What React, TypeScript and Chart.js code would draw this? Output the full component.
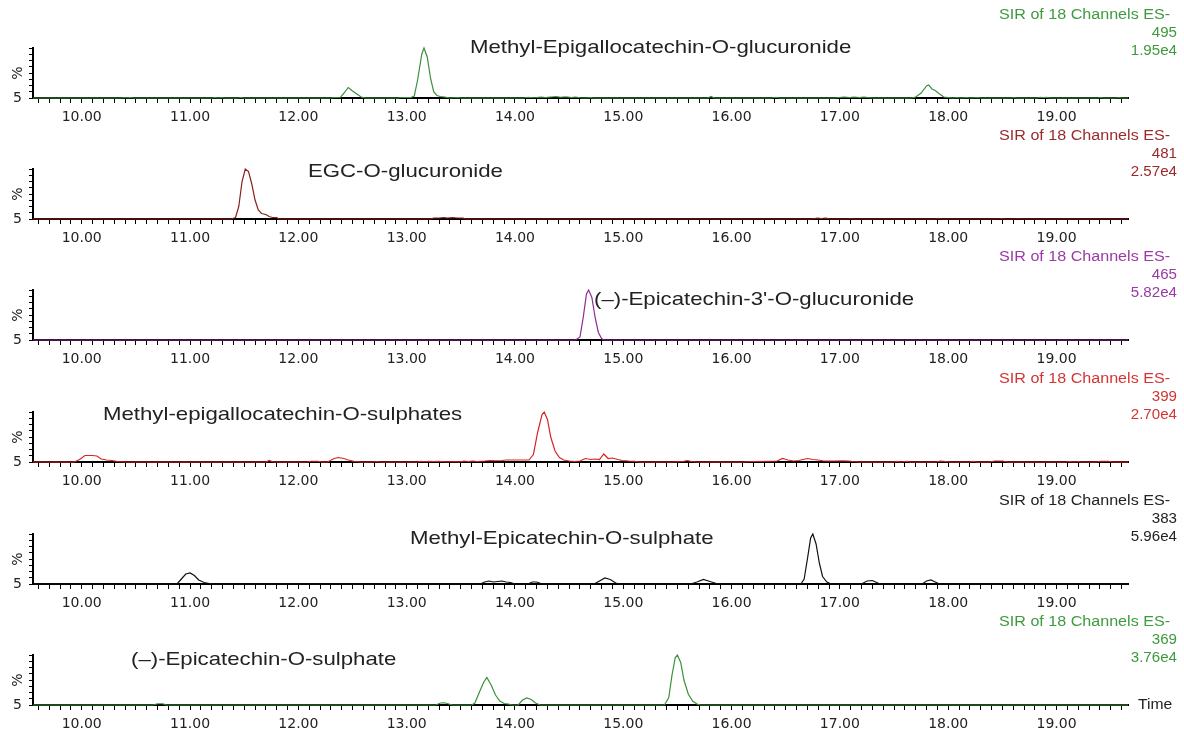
import React, { useEffect, useRef } from 'react';
import { Chart, registerables } from 'chart.js';

Chart.register(...registerables);

const TIME_MIN = 9.55;
const TIME_MAX = 19.66;
const TIME_TICK_STEP = 0.1;
const INTENSITY_MAX = 100;
const INTENSITY_TICK_STEP = 12.5;

// [retention time (min), relative intensity (%)]
const trace495: [number, number][] = [
  [9.55, 0], [10.36, 0], [10.39, 1], [10.42, 0.5], [10.45, 1], [10.48, 0],
  [11.2, 0], [11.23, 1], [11.26, 0], [11.29, 1], [11.32, 0],
  [11.44, 0], [11.47, 1], [11.5, 0],
  [12.3, 0], [12.33, 1], [12.39, 1.5], [12.43, 12], [12.46, 21], [12.5, 14], [12.54, 8], [12.58, 2], [12.62, 0],
  [12.92, 0], [12.95, 1], [13.0, 1], [13.04, 1], [13.07, 4], [13.1, 35], [13.14, 88], [13.16, 100], [13.19, 82],
  [13.22, 40], [13.25, 12], [13.28, 5], [13.31, 3], [13.35, 2], [13.4, 0], [13.47, 1], [13.5, 0],
  [14.08, 0], [14.12, 1.5], [14.16, 0.5], [14.2, 1], [14.24, 2], [14.28, 1], [14.33, 2], [14.38, 3], [14.42, 1.5],
  [14.47, 2.5], [14.52, 1], [14.56, 2], [14.6, 0.5], [14.65, 0], [14.7, 1], [14.73, 0],
  [15.78, 0], [15.81, 3], [15.84, 0],
  [16.37, 0], [16.41, 1.5], [16.44, 0],
  [16.95, 0], [16.99, 1], [17.04, 2], [17.09, 1], [17.13, 2], [17.18, 1], [17.22, 2], [17.26, 1], [17.3, 0],
  [17.66, 0], [17.7, 2], [17.75, 10], [17.8, 24], [17.82, 26], [17.85, 18], [17.88, 15], [17.92, 8], [17.96, 2],
  [18.0, 1], [18.04, 0], [18.08, 1], [18.12, 0], [18.17, 1], [18.2, 0], [18.27, 1], [18.3, 0],
  [18.58, 0], [18.61, 1], [18.64, 0],
  [18.82, 0], [18.85, 1.5], [18.88, 1], [18.91, 1.5], [18.94, 0],
  [19.38, 0], [19.41, 1], [19.44, 0], [19.55, 0], [19.58, 1], [19.6, 0], [19.66, 0],
];

const trace481: [number, number][] = [
  [9.55, 0], [11.38, 0], [11.42, 3], [11.45, 25], [11.48, 75], [11.51, 100], [11.54, 95], [11.57, 70],
  [11.6, 38], [11.63, 18], [11.66, 11], [11.7, 9], [11.73, 5], [11.76, 3], [11.8, 3], [11.82, 0],
  [13.22, 0], [13.25, 2], [13.3, 2], [13.34, 3], [13.38, 2], [13.42, 3], [13.47, 2], [13.52, 2], [13.54, 0],
  [16.75, 0], [16.79, 2], [16.83, 1], [16.87, 2], [16.91, 0],
  [17.07, 0], [17.1, 1], [17.13, 0],
  [17.88, 0], [17.91, 1.5], [17.94, 0],
  [18.45, 0], [18.49, 1], [18.53, 0], [18.62, 0], [18.65, 1], [18.68, 0],
  [19.66, 0],
];

const trace465: [number, number][] = [
  [9.55, 0], [14.56, 0], [14.6, 6], [14.63, 45], [14.66, 92], [14.68, 100], [14.71, 85], [14.74, 45],
  [14.77, 15], [14.8, 3], [14.82, 0], [19.66, 0],
];

const trace399: [number, number][] = [
  [9.55, 0], [9.93, 0], [9.98, 5], [10.03, 13], [10.1, 13], [10.14, 12], [10.18, 6], [10.23, 4], [10.28, 3], [10.33, 1], [10.4, 0],
  [11.7, 0], [11.73, 3], [11.77, 0],
  [12.08, 0], [12.12, 1.5], [12.18, 1.5], [12.22, 0],
  [12.27, 0], [12.33, 7], [12.37, 9], [12.42, 7], [12.46, 4], [12.52, 1], [12.58, 0],
  [12.68, 0], [12.72, 1], [12.76, 0],
  [13.1, 0], [13.13, 1.5], [13.17, 0.5], [13.2, 1.5], [13.25, 1], [13.3, 1.5], [13.35, 0.5],
  [13.5, 0.5], [13.53, 2], [13.57, 1], [13.61, 2], [13.65, 1], [13.72, 2], [13.77, 3], [13.82, 2.5], [13.88, 3],
  [13.92, 4], [13.98, 4], [14.05, 4], [14.1, 4], [14.13, 4],
  [14.17, 15], [14.21, 60], [14.25, 95], [14.27, 100], [14.3, 85], [14.33, 50], [14.37, 22], [14.41, 9], [14.45, 4],
  [14.5, 2], [14.55, 1],
  [14.6, 2], [14.65, 7], [14.7, 5], [14.74, 6], [14.78, 5], [14.82, 16], [14.86, 7], [14.9, 8], [14.95, 5], [14.99, 3],
  [15.05, 2], [15.1, 1.5], [15.15, 0],
  [15.45, 0], [15.55, 1], [15.59, 3], [15.63, 1], [15.68, 0],
  [16.1, 0], [16.2, 1], [16.35, 1.5], [16.42, 2], [16.47, 7], [16.52, 4], [16.57, 2], [16.62, 3], [16.7, 7],
  [16.75, 5], [16.8, 4], [16.85, 2], [16.95, 2], [17.02, 2.5], [17.08, 2], [17.12, 1], [17.18, 0],
  [17.5, 0], [17.53, 1.5], [17.56, 0], [17.62, 1.5], [17.65, 0],
  [17.88, 0], [17.93, 2], [17.98, 1], [18.02, 0],
  [18.2, 0], [18.23, 1.5], [18.26, 0],
  [18.38, 0], [18.43, 2], [18.5, 2], [18.55, 0],
  [19.08, 0], [19.12, 1], [19.16, 0], [19.2, 1], [19.23, 0],
  [19.37, 0], [19.4, 1.5], [19.48, 1.5], [19.52, 0], [19.66, 0],
];

const trace383: [number, number][] = [
  [9.55, 0], [10.88, 0], [10.92, 10], [10.96, 20], [11.0, 22], [11.04, 17], [11.08, 8], [11.13, 3], [11.18, 1], [11.22, 0],
  [13.68, 0], [13.72, 4], [13.76, 6], [13.8, 4], [13.84, 5], [13.88, 6], [13.92, 4], [13.96, 3], [14.0, 0],
  [14.12, 0], [14.16, 4], [14.2, 4], [14.24, 1], [14.28, 0],
  [14.73, 0], [14.78, 6], [14.83, 12], [14.88, 9], [14.93, 2], [14.97, 0],
  [15.62, 0], [15.68, 4], [15.74, 9], [15.8, 5], [15.86, 1], [15.9, 0],
  [16.64, 0], [16.67, 10], [16.7, 50], [16.73, 92], [16.75, 100], [16.78, 80], [16.81, 42], [16.84, 15], [16.88, 4], [16.92, 0],
  [17.2, 0], [17.25, 6], [17.3, 7], [17.35, 2], [17.38, 0],
  [17.76, 0], [17.8, 6], [17.84, 8], [17.88, 4], [17.92, 0],
  [19.66, 0],
];

const trace369: [number, number][] = [
  [9.55, 0], [10.66, 0], [10.7, 2.5], [10.75, 2.5], [10.78, 0],
  [13.27, 0], [13.31, 4], [13.35, 4.5], [13.39, 2], [13.42, 0],
  [13.6, 0], [13.63, 4], [13.67, 25], [13.71, 45], [13.74, 55], [13.78, 40], [13.82, 20], [13.86, 8], [13.9, 3], [13.94, 2], [13.97, 0],
  [14.03, 0], [14.07, 10], [14.11, 14], [14.15, 11], [14.19, 4], [14.23, 0],
  [15.38, 0], [15.42, 15], [15.45, 60], [15.48, 95], [15.5, 100], [15.53, 85], [15.56, 50], [15.6, 22], [15.64, 8], [15.68, 2], [15.71, 0],
  [19.66, 0],
];

const traces = [trace495, trace481, trace465, trace399, trace383, trace369];
const channelMasses = ['495', '481', '465', '399', '383', '369'];
const channelMaxima = ['1.95e4', '2.57e4', '5.82e4', '2.70e4', '5.96e4', '3.76e4'];
const channelHeader = 'SIR of 18 Channels ES-';
const compoundNames = [
  'Methyl-Epigallocatechin-O-glucuronide',
  'EGC-O-glucuronide',
  '(\u2013)-Epicatechin-3\'-O-glucuronide',
  'Methyl-epigallocatechin-O-sulphates',
  'Methyl-Epicatechin-O-sulphate',
  '(\u2013)-Epicatechin-O-sulphate',
];
const axisTitle = '%';
const baselineLabel = '5';
const timeLabel = 'Time';

// styling / layout
const lineColors = ['#3c8f3c', '#8b1d1d', '#8e2a94', '#d62525', '#111111', '#3c8f3c'];
const headerColors = ['#3f9a3f', '#9a2a2a', '#9a3aa6', '#d43434', '#222222', '#3f9a3f'];
const panelTops = [0, 121, 242, 364, 486, 607];
const namePositions = [
  { x: 470, y: 48 },
  { x: 308, y: 51 },
  { x: 594, y: 58 },
  { x: 103, y: 51 },
  { x: 410, y: 53 },
  { x: 131, y: 53 },
];
const PANEL_W = 1184;
const PANEL_H = 130;
const TICK_FONT = '"DejaVu Sans", sans-serif';
const TEXT_FONT = '"Liberation Sans", Arial, sans-serif';

function drawStretched(
  ctx: CanvasRenderingContext2D,
  text: string,
  x: number,
  y: number,
  size: number,
  stretch: number,
  align: 'left' | 'right',
  color: string
) {
  ctx.save();
  ctx.font = `${size}px ${TEXT_FONT}`;
  ctx.fillStyle = color;
  ctx.textBaseline = 'middle';
  ctx.textAlign = 'left';
  const w = ctx.measureText(text).width * stretch;
  const left = align === 'right' ? x - w : x;
  ctx.translate(left, y);
  ctx.scale(stretch, 1);
  ctx.fillText(text, 0, 0);
  ctx.restore();
}

function ChromatogramPanel({ index }: { index: number }) {
  const canvasRef = useRef<HTMLCanvasElement | null>(null);

  useEffect(() => {
    const canvas = canvasRef.current;
    if (!canvas) return;

    const textPlugin = {
      id: 'panelText',
      afterDraw(chart: any) {
        const ctx = chart.ctx as CanvasRenderingContext2D;
        const c = headerColors[index];
        drawStretched(ctx, channelHeader, 1170, 15, 14, 1.15, 'right', c);
        drawStretched(ctx, channelMasses[index], 1177, 33, 14, 1.08, 'right', c);
        drawStretched(ctx, channelMaxima[index], 1177, 51, 14, 1.08, 'right', c);
        const p = namePositions[index];
        drawStretched(ctx, compoundNames[index], p.x, p.y, 18.5, 1.2, 'left', '#222222');
        if (index === traces.length - 1) {
          drawStretched(ctx, timeLabel, 1138, chart.chartArea.bottom, 14, 1.12, 'left', '#222222');
        }
      },
    };

    const chart = new Chart(canvas, {
      type: 'line',
      data: {
        datasets: [
          {
            data: traces[index].map(([t, v]) => ({ x: t, y: v })),
            borderColor: lineColors[index],
            borderWidth: 1.2,
            pointRadius: 0,
            tension: 0,
            fill: false,
            clip: 5,
          } as any,
        ],
      },
      options: {
        responsive: false,
        animation: false,
        events: [],
        layout: { padding: { top: 48, right: 56, left: 0, bottom: 0 } },
        plugins: {
          legend: { display: false },
          tooltip: { enabled: false },
          title: { display: false },
        },
        scales: {
          x: {
            type: 'linear',
            min: TIME_MIN,
            max: TIME_MAX,
            afterFit: (s: any) => {
              s.height = PANEL_H - 98;
            },
            border: { display: true, color: '#000000', width: 2 },
            grid: {
              display: true,
              drawOnChartArea: false,
              drawTicks: true,
              tickLength: 5,
              color: '#000000',
              lineWidth: 1,
            },
            ticks: {
              stepSize: TIME_TICK_STEP,
              autoSkip: false,
              includeBounds: false,
              maxRotation: 0,
              minRotation: 0,
              padding: 6,
              color: '#222222',
              font: { family: TICK_FONT, size: 14 },
              callback: (v: any) => {
                const n = Number(v);
                return Math.abs(n - Math.round(n)) < 1e-6 ? n.toFixed(2) : '';
              },
            },
          },
          y: {
            min: 0,
            max: INTENSITY_MAX,
            afterFit: (s: any) => {
              s.width = 33;
            },
            border: { display: true, color: '#000000', width: 2 },
            grid: {
              display: true,
              drawOnChartArea: false,
              drawTicks: true,
              tickLength: 4,
              color: '#000000',
              lineWidth: 1,
            },
            ticks: {
              stepSize: INTENSITY_TICK_STEP,
              autoSkip: false,
              padding: 7,
              color: '#222222',
              font: { family: TICK_FONT, size: 14 },
              callback: (v: any) => (Number(v) === 0 ? baselineLabel : ''),
            },
            title: {
              display: true,
              text: axisTitle,
              color: '#222222',
              padding: { top: 10, bottom: 0 },
              font: { family: TICK_FONT, size: 14 },
            },
          },
        },
      } as any,
      plugins: [textPlugin],
    });

    return () => chart.destroy();
  }, [index]);

  return (
    <canvas
      ref={canvasRef}
      width={PANEL_W}
      height={PANEL_H}
      style={{
        position: 'absolute',
        left: 0,
        top: panelTops[index],
        width: PANEL_W,
        height: PANEL_H,
        display: 'block',
      }}
    />
  );
}

export default function App() {
  return (
    <div
      style={{
        position: 'fixed',
        left: 0,
        top: 0,
        width: 1184,
        height: 735,
        overflow: 'hidden',
        background: '#ffffff',
      }}
    >
      {traces.map((_, i) => (
        <ChromatogramPanel key={i} index={i} />
      ))}
    </div>
  );
}
